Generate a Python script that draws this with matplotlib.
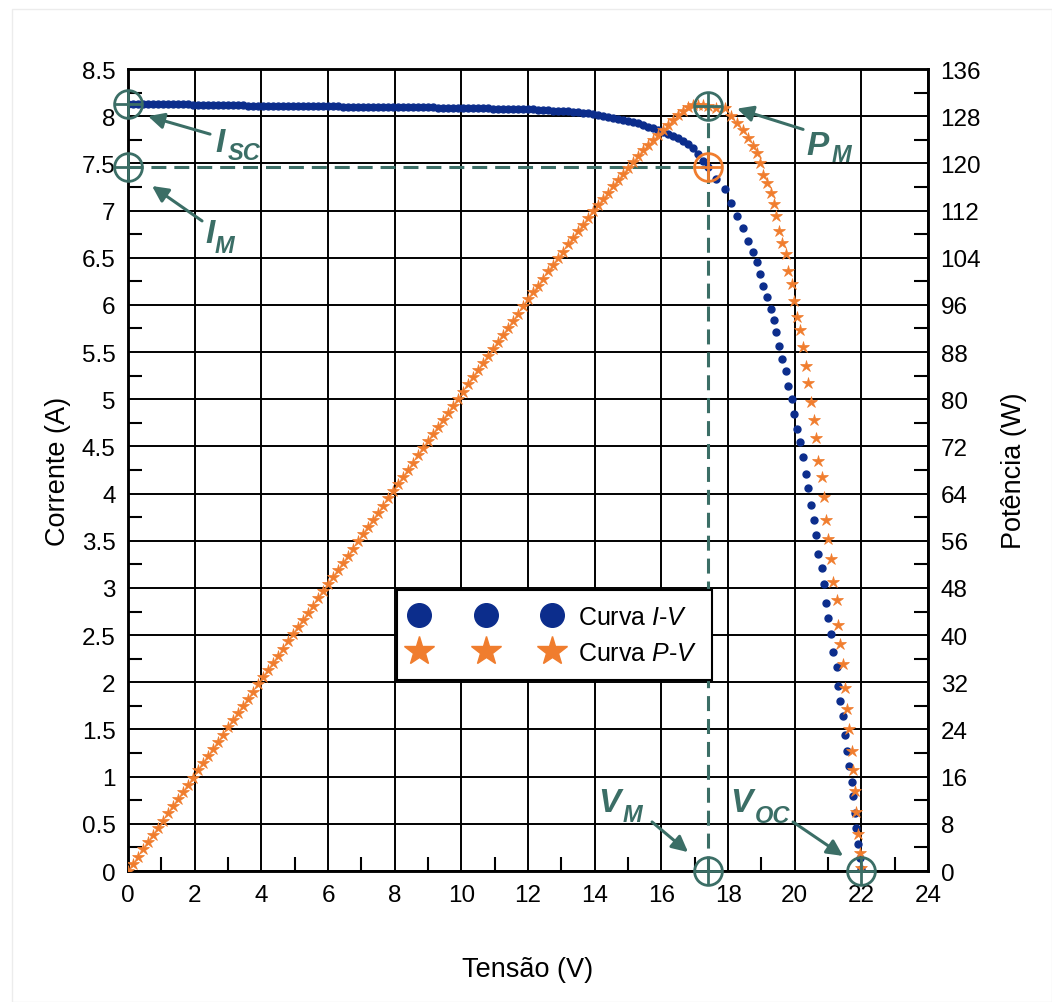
import matplotlib
matplotlib.use('Agg')
import matplotlib.pyplot as plt
from matplotlib.lines import Line2D
from matplotlib.patches import Rectangle
from matplotlib.ticker import MultipleLocator, FuncFormatter

plt.rcParams['font.family'] = ['Liberation Sans', 'DejaVu Sans']
plt.rcParams['mathtext.fontset'] = 'custom'
plt.rcParams['mathtext.it'] = 'Liberation Sans:italic'
plt.rcParams['mathtext.rm'] = 'Liberation Sans'

voltage = [
    0.00, 0.15, 0.30, 0.45, 0.60, 0.75, 0.90, 1.05, 1.20, 1.35,
    1.50, 1.65, 1.80, 1.95, 2.10, 2.25, 2.40, 2.55, 2.70, 2.85,
    3.00, 3.15, 3.30, 3.45, 3.60, 3.75, 3.90, 4.05, 4.20, 4.35,
    4.50, 4.65, 4.80, 4.95, 5.10, 5.25, 5.40, 5.55, 5.70, 5.85,
    6.00, 6.15, 6.30, 6.45, 6.60, 6.75, 6.90, 7.05, 7.20, 7.35,
    7.50, 7.65, 7.80, 7.95, 8.10, 8.25, 8.40, 8.55, 8.70, 8.85,
    9.00, 9.15, 9.30, 9.45, 9.60, 9.75, 9.90, 10.05, 10.20, 10.35,
    10.50, 10.65, 10.80, 10.95, 11.10, 11.25, 11.40, 11.55, 11.70, 11.85,
    12.00, 12.15, 12.30, 12.45, 12.60, 12.75, 12.90, 13.05, 13.20, 13.35,
    13.50, 13.65, 13.80, 13.95, 14.10, 14.25, 14.40, 14.55, 14.70, 14.85,
    15.00, 15.15, 15.30, 15.45, 15.60, 15.75, 15.90, 16.05, 16.20, 16.35,
    16.50, 16.65, 16.80, 16.95, 17.10, 17.25, 17.40,
    17.65, 17.90, 18.08, 18.27, 18.45, 18.60, 18.75, 18.87, 18.97, 19.05,
    19.18, 19.30, 19.37, 19.44, 19.53, 19.62, 19.74, 19.80, 19.92, 19.98,
    20.07, 20.16, 20.25, 20.34, 20.40, 20.49, 20.58, 20.64, 20.70, 20.82,
    20.88, 20.94, 21.00, 21.09, 21.15, 21.27, 21.30, 21.36, 21.45, 21.51,
    21.57, 21.63, 21.72, 21.75, 21.80, 21.85, 21.90, 21.95, 22.00,
]
current = [
    8.13, 8.13, 8.13, 8.13, 8.13, 8.13, 8.13, 8.13, 8.13, 8.13,
    8.13, 8.13, 8.13, 8.12, 8.12, 8.12, 8.12, 8.12, 8.12, 8.12,
    8.12, 8.12, 8.12, 8.12, 8.11, 8.11, 8.11, 8.11, 8.11, 8.11,
    8.11, 8.11, 8.11, 8.11, 8.11, 8.11, 8.11, 8.11, 8.11, 8.11,
    8.11, 8.11, 8.11, 8.10, 8.10, 8.10, 8.10, 8.10, 8.10, 8.10,
    8.10, 8.10, 8.10, 8.10, 8.10, 8.10, 8.10, 8.10, 8.10, 8.10,
    8.10, 8.10, 8.09, 8.09, 8.09, 8.09, 8.09, 8.09, 8.09, 8.09,
    8.09, 8.09, 8.09, 8.08, 8.08, 8.08, 8.08, 8.08, 8.08, 8.08,
    8.08, 8.08, 8.07, 8.07, 8.07, 8.06, 8.06, 8.05, 8.05, 8.04,
    8.04, 8.03, 8.03, 8.02, 8.01, 8.00, 7.99, 7.98, 7.97, 7.96,
    7.95, 7.94, 7.93, 7.91, 7.89, 7.87, 7.85, 7.83, 7.81, 7.79,
    7.77, 7.74, 7.71, 7.66, 7.60, 7.53, 7.46,
    7.33, 7.23, 7.08, 6.94, 6.81, 6.68, 6.56, 6.45, 6.33, 6.20,
    6.08, 5.96, 5.84, 5.71, 5.56, 5.43, 5.30, 5.14, 5.00, 4.84,
    4.68, 4.55, 4.39, 4.21, 4.06, 3.88, 3.72, 3.56, 3.36, 3.21,
    3.04, 2.84, 2.68, 2.51, 2.32, 2.16, 1.96, 1.80, 1.64, 1.44,
    1.27, 1.11, 0.94, 0.79, 0.62, 0.46, 0.29, 0.14, 0.02,
]
# power of every measured point
power = [v * i for v, i in zip(voltage, current)]

# key points
I_SC = 8.13
V_OC = 22.0
V_M = 17.4
I_M = 7.46
P_M = V_M * I_M
W_PER_A = 136 / 8.5

blue = '#0c2d8c'
orange = '#f07d2e'
teal = '#3b6e66'

fig = plt.figure(figsize=(10.52, 10.03), dpi=100)
fig.patches.append(Rectangle((0.011, 0.0), 0.989, 0.99, transform=fig.transFigure,
                             fill=False, edgecolor='#ececec', lw=1))
ax = fig.add_axes([0.1217, 0.1306, 0.7605, 0.7996])
ax2 = ax.twinx()

ax.set_xlim(0, 24)
ax.set_ylim(0, 8.5)
ax2.set_ylim(0, 136)

fmt = FuncFormatter(lambda x, pos: '%g' % x)
ax.xaxis.set_major_locator(MultipleLocator(2))
ax.xaxis.set_minor_locator(MultipleLocator(1))
ax.yaxis.set_major_locator(MultipleLocator(0.5))
ax.yaxis.set_minor_locator(MultipleLocator(0.25))
ax2.yaxis.set_major_locator(MultipleLocator(8))
ax2.yaxis.set_minor_locator(MultipleLocator(4))
ax.xaxis.set_major_formatter(fmt)
ax.yaxis.set_major_formatter(fmt)
ax2.yaxis.set_major_formatter(fmt)

ax.grid(True, which='major', color='black', lw=1.4)
ax.set_axisbelow(True)
for a in (ax, ax2):
    a.tick_params(which='major', length=0, pad=9, labelsize=17.5)
    a.tick_params(which='minor', direction='in', length=10, width=1.5)
    for s in a.spines.values():
        s.set_linewidth(1.8)

# curves
ax.plot(voltage, current, 'o', ms=5, color=blue, ls='none', zorder=3)
ax2.plot(voltage, power, '*', ms=9, color=orange, mew=0.5, ls='none', zorder=3)

# dashed guides to the maximum power point
dash = (0, (4.9, 2.6))
ax.plot([0, V_M], [I_M, I_M], ls=dash, lw=2.2, color=teal, zorder=2)
ax.plot([V_M, V_M], [0, 7.95], ls=dash, lw=2.2, color=teal, zorder=2)


def cross_circle(x, y, color):
    for m in ('o', '+'):
        ax2.plot([x], [y], marker=m, ms=20, mew=2.0, mfc='none', mec=color,
                 transform=ax.transData, clip_on=False, zorder=6)


cross_circle(0, I_SC, teal)
cross_circle(0, I_M, teal)
cross_circle(V_M, P_M / W_PER_A, teal)
cross_circle(V_M, I_M, orange)
cross_circle(V_M, 0, teal)
cross_circle(V_OC, 0, teal)

# labels with arrows: (main, sub, main pos, sub pos, arrow tail, arrow head)
labels = [
    ('I', 'SC', (2.61, 7.63), (3.00, 7.55), (2.46, 7.81), (0.60, 8.00)),
    ('I', 'M', (2.31, 6.67), (2.61, 6.56), (2.22, 6.89), (0.72, 7.26)),
    ('P', 'M', (20.34, 7.60), (21.12, 7.52), (20.25, 7.86), (18.27, 8.08)),
    ('V', 'M', (14.10, 0.64), (14.85, 0.53), (15.72, 0.52), (16.80, 0.20)),
    ('V', 'OC', (18.06, 0.64), (18.81, 0.52), (19.95, 0.52), (21.45, 0.16)),
]
for main, sub, pm, ps, tail, head in labels:
    ax2.text(pm[0], pm[1], main, transform=ax.transData, fontsize=24,
             weight='bold', style='italic', color=teal, zorder=7)
    ax2.text(ps[0], ps[1], sub, transform=ax.transData, fontsize=17,
             weight='bold', style='italic', color=teal, zorder=7)
    ax2.annotate('', xy=head, xytext=tail, xycoords=ax.transData,
                 textcoords=ax.transData,
                 arrowprops=dict(arrowstyle='-|>', lw=2.2, color=teal,
                                 mutation_scale=24, shrinkA=0, shrinkB=0),
                 zorder=7)

h1 = Line2D([], [], marker='o', ls='none', color=blue, ms=17)
h2 = Line2D([], [], marker='*', ls='none', color=orange, ms=22)
leg = ax2.legend([h1, h2],
                 ['Curva $\\mathit{I}$-$\\mathit{V}$', 'Curva $\\mathit{P}$-$\\mathit{V}$'],
                 loc='upper left', bbox_to_anchor=(0.336, 0.351), numpoints=3,
                 handlelength=5.9, handletextpad=0.75, fontsize=18,
                 fancybox=False, edgecolor='black', framealpha=1,
                 borderaxespad=0, borderpad=0.6, labelspacing=0.5)
leg.get_frame().set_linewidth(1.5)
leg.set_zorder(8)

ax.set_xlabel('Tensão (V)', fontsize=19.5, labelpad=36)
ax.set_ylabel('Corrente (A)', fontsize=19.5, labelpad=8)
ax2.set_ylabel('Potência (W)', fontsize=19.5, labelpad=14)

fig.savefig('out.png', dpi=100)
